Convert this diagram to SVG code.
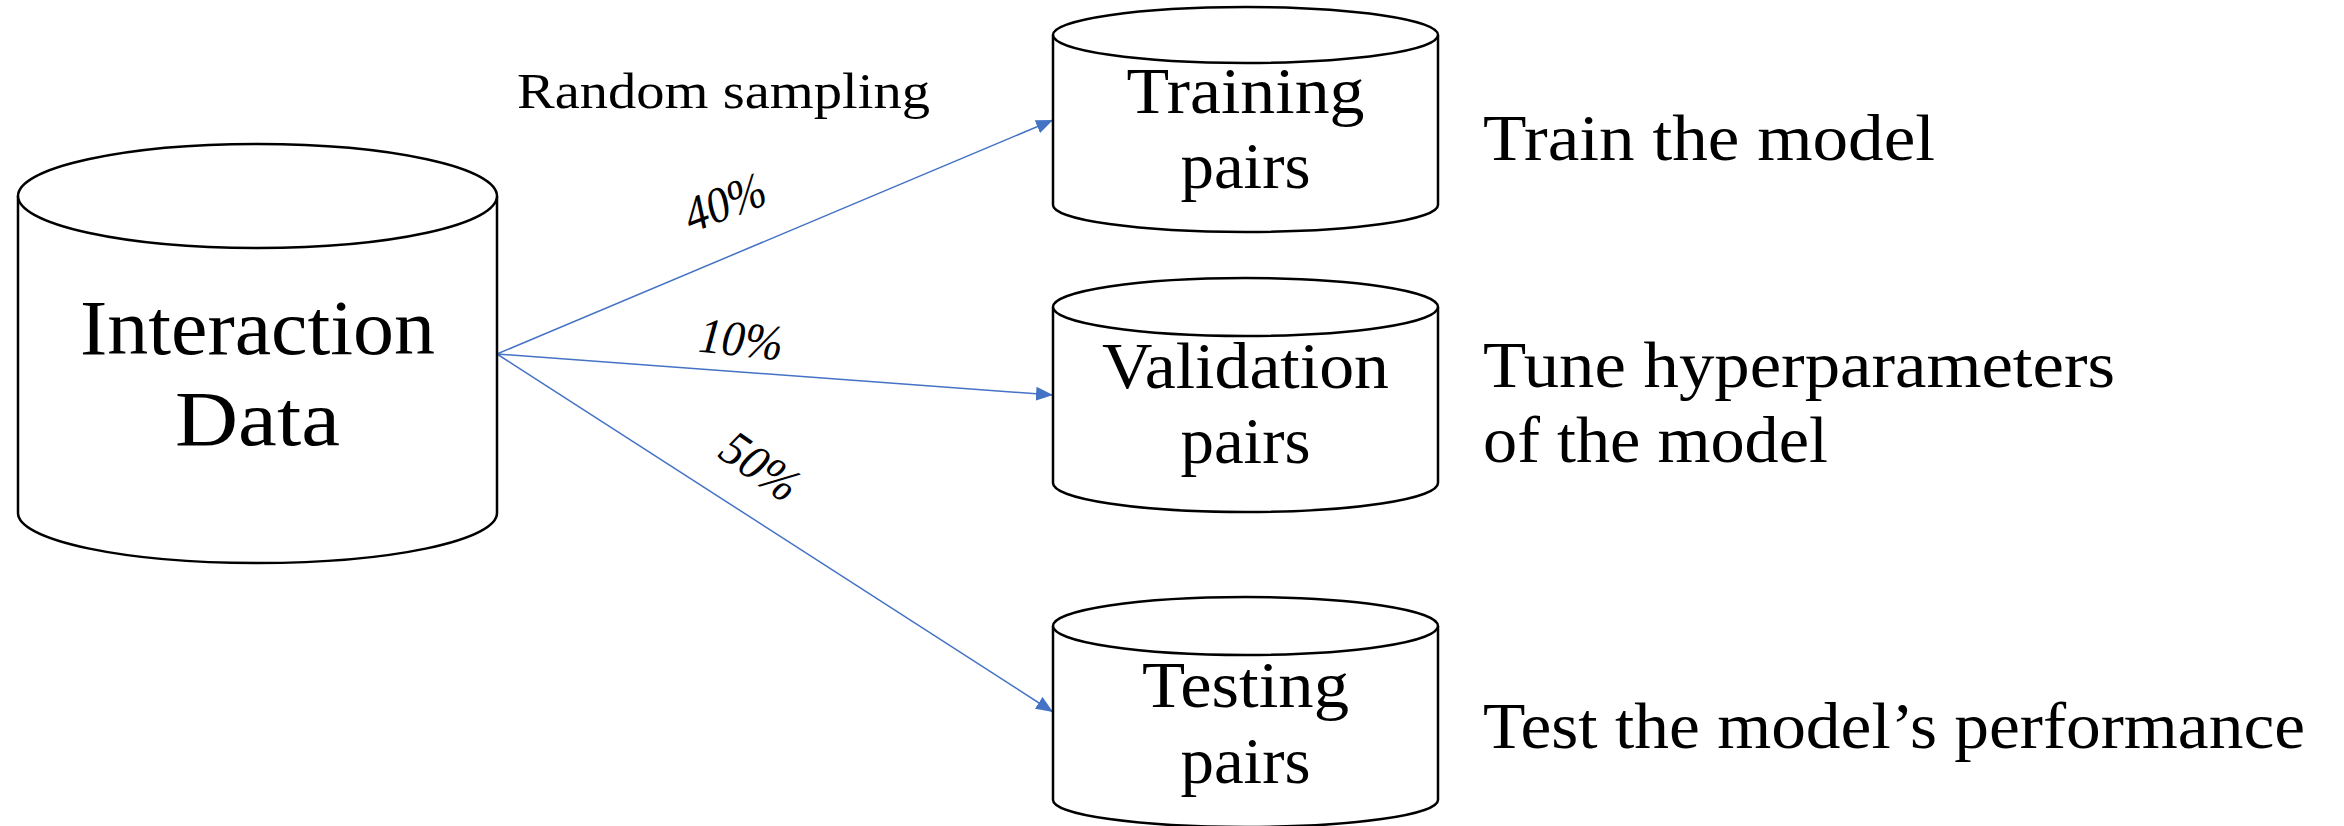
<svg xmlns="http://www.w3.org/2000/svg" width="2344" height="826" viewBox="0 0 2344 826">
<style>
.cyl{fill:#fff;stroke:#000;stroke-width:2.5}
.t{font-family:"Liberation Serif","Times New Roman",serif;fill:#000}
.c{text-anchor:middle}
.conn{stroke:#4472C4;stroke-width:1.5;fill:none}
.pct{font-family:"Liberation Serif","Times New Roman",serif;font-style:italic;font-size:50px;text-anchor:middle;fill:#000}
</style>
<defs>
<marker id="ah" markerUnits="userSpaceOnUse" markerWidth="18" markerHeight="14" refX="17" refY="7" orient="auto">
<path d="M0,0 L17,7 L0,14 Z" fill="#4472C4"/>
</marker>
</defs>
<rect width="2344" height="826" fill="#fff"/>
<g id="connectors">
<line class="conn" x1="497" y1="354" x2="1053" y2="120" marker-end="url(#ah)"/>
<line class="conn" x1="497" y1="354" x2="1053" y2="395" marker-end="url(#ah)"/>
<line class="conn" x1="497" y1="354" x2="1053" y2="712" marker-end="url(#ah)"/>
<text class="t" x="517" y="108" font-size="50" textLength="413" lengthAdjust="spacingAndGlyphs">Random sampling</text>
<text class="pct" transform="translate(725,203) rotate(-21)" x="0" y="16" textLength="84" lengthAdjust="spacingAndGlyphs">40%</text>
<text class="pct" transform="translate(741,340) rotate(6)" x="0" y="16" textLength="84" lengthAdjust="spacingAndGlyphs">10%</text>
<text class="pct" transform="translate(760,467) rotate(35)" x="0" y="16" textLength="84" lengthAdjust="spacingAndGlyphs">50%</text>
</g>
<g id="interaction">
<path class="cyl" d="M18,196 L18,513 A239.5,50 0 0 0 497,513 L497,196"/>
<ellipse class="cyl" cx="257.5" cy="196" rx="239.5" ry="52"/>
<text class="t c" x="257.5" y="354" font-size="78" textLength="355" lengthAdjust="spacingAndGlyphs">Interaction</text>
<text class="t c" x="257.5" y="445" font-size="78" textLength="165" lengthAdjust="spacingAndGlyphs">Data</text>
</g>
<g id="training">
<path class="cyl" d="M1053,35 L1053,205 A192.5,27 0 0 0 1438,205 L1438,35"/>
<ellipse class="cyl" cx="1245.5" cy="35" rx="192.5" ry="28"/>
<text class="t c" x="1245.5" y="113" font-size="65" textLength="238" lengthAdjust="spacingAndGlyphs">Training</text>
<text class="t c" x="1245.5" y="188" font-size="65" textLength="130" lengthAdjust="spacingAndGlyphs">pairs</text>
</g>
<g id="validation">
<path class="cyl" d="M1053,307 L1053,483 A192.5,29 0 0 0 1438,483 L1438,307"/>
<ellipse class="cyl" cx="1245.5" cy="307" rx="192.5" ry="29"/>
<text class="t c" x="1245.5" y="388" font-size="65" textLength="287" lengthAdjust="spacingAndGlyphs">Validation</text>
<text class="t c" x="1245.5" y="463" font-size="65" textLength="130" lengthAdjust="spacingAndGlyphs">pairs</text>
</g>
<g id="testing">
<path class="cyl" d="M1053,626 L1053,800 A192.5,27 0 0 0 1438,800 L1438,626"/>
<ellipse class="cyl" cx="1245.5" cy="626" rx="192.5" ry="29"/>
<text class="t c" x="1245.5" y="707" font-size="65" textLength="207" lengthAdjust="spacingAndGlyphs">Testing</text>
<text class="t c" x="1245.5" y="783" font-size="65" textLength="130" lengthAdjust="spacingAndGlyphs">pairs</text>
</g>
<g id="desc-train">
<text class="t" x="1483" y="160" font-size="66" textLength="452" lengthAdjust="spacingAndGlyphs">Train the model</text>
</g>
<g id="desc-validation">
<text class="t" x="1483" y="387" font-size="66" textLength="632" lengthAdjust="spacingAndGlyphs">Tune hyperparameters</text>
<text class="t" x="1483" y="462" font-size="66" textLength="345" lengthAdjust="spacingAndGlyphs">of the model</text>
</g>
<g id="desc-test">
<text class="t" x="1483" y="748" font-size="66" textLength="822" lengthAdjust="spacingAndGlyphs">Test the model’s performance</text>
</g>
</svg>
